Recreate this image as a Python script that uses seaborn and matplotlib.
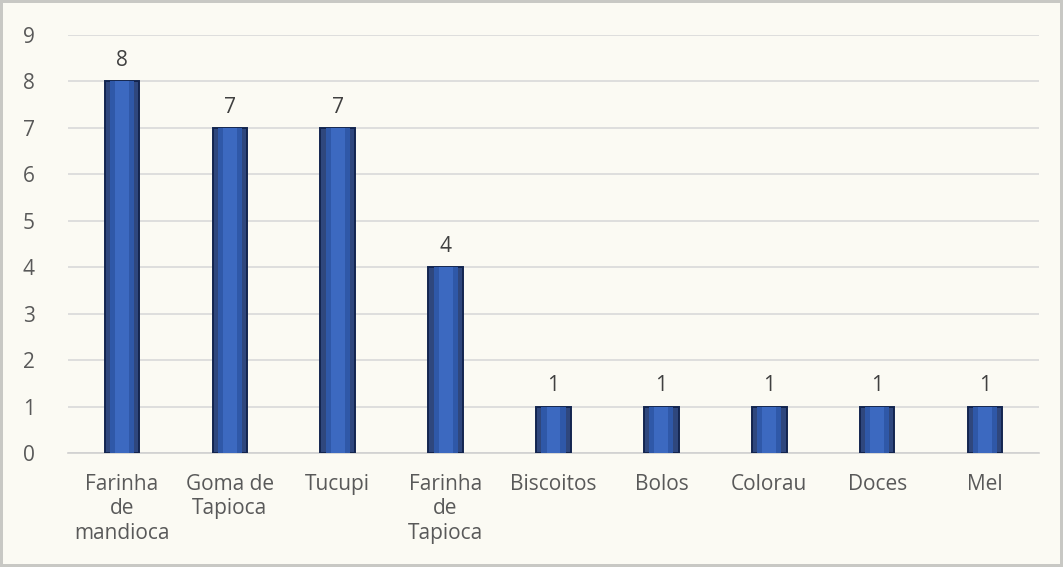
import pandas as pd
import matplotlib.pyplot as plt
import seaborn as sns

# Dados do gráfico
produtos = ["Farinha\nde\nmandioca", "Goma de\nTapioca", "Tucupi", "Farinha\nde\nTapioca",
            "Biscoitos", "Bolos", "Colorau", "Doces", "Mel"]
quantidades = [8, 7, 7, 4, 1, 1, 1, 1, 1]
eixo_y = list(range(0, 10))

df = pd.DataFrame({"produto": produtos, "qtd": quantidades})

sns.set_style("white")
plt.rcParams['font.family'] = ['Open Sans', 'DejaVu Sans']

fundo = "#fbfaf3"
cinza_texto = "#595959"

fig = plt.figure(figsize=(10.63, 5.67), dpi=100, facecolor=fundo)
fig.patch.set_edgecolor("#c8c8c4")
fig.patch.set_linewidth(3)
ax = fig.add_axes([68 / 1063, 1 - 453 / 567, (1039 - 68) / 1063, (453 - 35) / 567])
ax.set_facecolor(fundo)

sns.barplot(data=df, x="produto", y="qtd", color="#22428a", width=0.32,
            edgecolor="#13254f", linewidth=1.4, ax=ax, zorder=3)

# efeito de cilindro: faixas mais claras no centro
for p in list(ax.patches):
    x, w, h = p.get_x(), p.get_width(), p.get_height()
    ax.bar(x + w / 2, h, width=w * 0.7, color="#2f58a8", linewidth=0, zorder=4)
    ax.bar(x + w / 2, h, width=w * 0.4, color="#3c69c0", linewidth=0, zorder=5)

for i, v in enumerate(quantidades):
    ax.text(i, v + 0.22, str(v), ha="center", va="bottom", fontsize=15, color="#404040")

ax.set_ylim(0, 9)
ax.set_xlim(-0.5, 8.5)
ax.set_yticks(eixo_y)
ax.yaxis.grid(True, color="#d9d9d9", linewidth=1.2, zorder=0)
ax.set_axisbelow(True)
for s in ["top", "right", "left"]:
    ax.spines[s].set_visible(False)
ax.spines["bottom"].set_color("#d0d0d0")
ax.spines["bottom"].set_linewidth(1.2)
ax.tick_params(axis="both", length=0, labelsize=15, labelcolor=cinza_texto)
ax.tick_params(axis="y", pad=24)
ax.tick_params(axis="x", pad=15)
for lbl in ax.get_xticklabels():
    lbl.set_verticalalignment("top")
    lbl.set_horizontalalignment("center")
    lbl.set_multialignment("center")
    lbl.set_linespacing(1.22)
ax.set_xlabel("")
ax.set_ylabel("")

fig.savefig("out.png", dpi=100, facecolor=fundo, edgecolor=fig.patch.get_edgecolor())
